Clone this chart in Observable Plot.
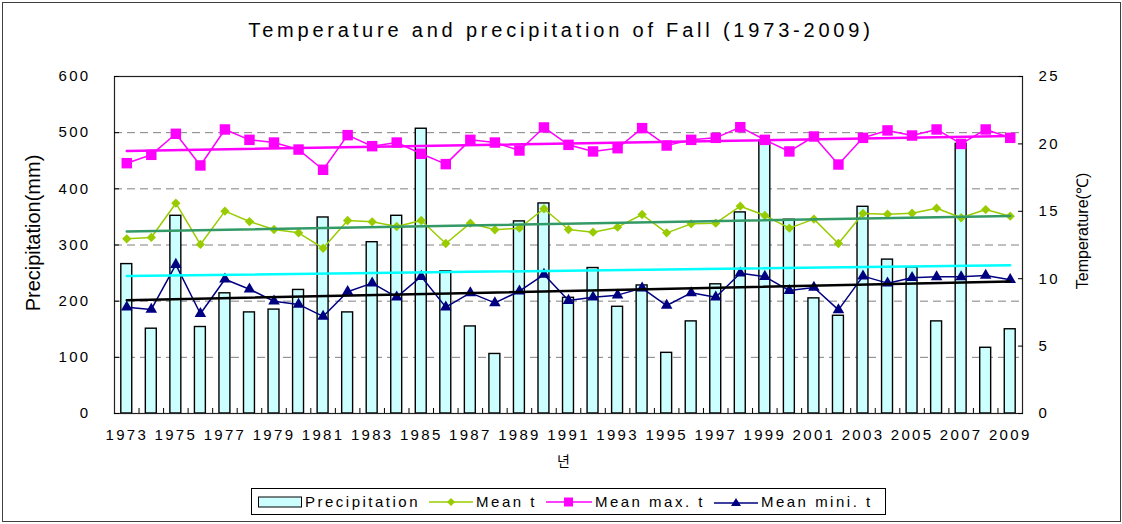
<!DOCTYPE html>
<html>
<head>
<meta charset="utf-8">
<script src="https://cdn.jsdelivr.net/npm/d3@7"></script>
<script src="https://cdn.jsdelivr.net/npm/@observablehq/plot@0.6"></script>
<style>
  body { margin: 0; background: #fff; font-family: "Liberation Sans", Arial, "Noto Sans CJK KR", sans-serif; }
  #wrap { position: relative; width: 1122px; height: 524px; overflow: hidden; background: #fff; }
  #border { position: absolute; left: 2px; top: 2px; width: 1117px; height: 518px; border: 1px solid #404040; }
  #title { position: absolute; left: 0; top: 20px; width: 1122px; text-align: center; font-size: 20px; line-height: 20px; letter-spacing: 3.8px; color: #000; }
  #chart { position: absolute; left: 0; top: 0; }
  #chart g[aria-label$="tick label"] text { letter-spacing: 2.3px; }
  #legend { position: absolute; left: 251px; top: 488px; width: 633px; height: 25px; border: 1px solid #000; display: flex; align-items: center; font-size: 15px; letter-spacing: 2.5px; color: #000; white-space: nowrap; overflow: hidden; }
  #legend .item { display: flex; align-items: center; flex-shrink: 0; margin-left: 6px; margin-right: 3px; }
  #legend .item svg { margin-right: 3px; flex-shrink: 0; }
</style>
</head>
<body>
<div id="wrap">
  <div id="border"></div>
  <div id="title"></div>
  <div id="chart"></div>
  <div id="legend"></div>
</div>
<script>
// ---- data ----
const years = [1973,1974,1975,1976,1977,1978,1979,1980,1981,1982,1983,1984,1985,1986,1987,1988,1989,1990,1991,1992,1993,1994,1995,1996,1997,1998,1999,2000,2001,2002,2003,2004,2005,2006,2007,2008,2009];
const precipitation = [266,151,352,154,214,180,185,220,349,180,305,352,507,253,155,106,342,374,206,259,190,228,108,164,230,358,486,345,205,174,368,274,260,164,480,117,150];
const meanT = [12.96,13.06,15.60,12.54,15.01,14.24,13.65,13.40,12.26,14.32,14.22,13.87,14.32,12.61,14.12,13.63,13.75,15.19,13.65,13.45,13.82,14.76,13.40,14.07,14.12,15.38,14.69,13.75,14.42,12.61,14.84,14.79,14.86,15.23,14.52,15.13,14.64];
const meanMaxT = [18.57,19.19,20.75,18.40,21.07,20.30,20.10,19.58,18.08,20.65,19.83,20.10,19.27,18.50,20.30,20.10,19.51,21.22,19.93,19.44,19.68,21.17,19.88,20.30,20.45,21.24,20.30,19.44,20.55,18.47,20.45,21.00,20.62,21.07,20.00,21.07,20.45];
const meanMinT = [7.89,7.72,11.05,7.40,9.96,9.22,8.33,8.09,7.20,9.03,9.67,8.63,10.16,7.89,8.95,8.21,9.07,10.31,8.38,8.63,8.78,9.30,8.01,8.95,8.63,10.41,10.16,9.12,9.35,7.69,10.19,9.67,10.07,10.14,10.14,10.24,9.92];
const yearLabels = [1973,1975,1977,1979,1981,1983,1985,1987,1989,1991,1993,1995,1997,1999,2001,2003,2005,2007,2009];
const precipTicks = [0,100,200,300,400,500,600];
const gridTicks = [100,200,300,400,500];
const tempTicks = [0,5,10,15,20,25];
const title = "Temperature and precipitation of Fall (1973-2009)";
const seriesNames = ["Precipitation", "Mean t", "Mean max. t", "Mean mini. t"];

// ---- build ----
const K = 600 / 25; // temperature -> precipitation axis
const rows = years.map((year, i) => ({year, precip: precipitation[i], tMean: meanT[i], tMax: meanMaxT[i], tMin: meanMinT[i]}));
const boundaries = years.slice(0, -1).map(y => y + 0.5);

const colors = {precip: "#ccffff", mean: "#99cc00", max: "#ff00ff", min: "#000080",
  trendPrecip: "#00ffff", trendMean: "#339966", trendMax: "#ff00ff", trendMin: "#000000"};

const plot = Plot.plot({
  width: 1122, height: 480,
  marginLeft: 114, marginRight: 100, marginTop: 76, marginBottom: 67,
  style: {fontFamily: "'Liberation Sans', Arial, sans-serif", fontSize: "15px", color: "#000", background: "transparent", overflow: "visible"},
  x: {type: "linear", domain: [1972.5, 2009.5], label: null},
  y: {domain: [0, 600], label: null},
  marks: [
    Plot.ruleY(gridTicks, {stroke: "#808080", strokeDasharray: "8,5", strokeWidth: 1}),
    Plot.rectY(rows, {x1: d => d.year - 0.5, x2: d => d.year + 0.5, y: "precip", fill: colors.precip, stroke: "#000", strokeWidth: 1.4, insetLeft: 6.8, insetRight: 6.8}),
    Plot.line(rows, {x: "year", y: d => d.tMax * K, stroke: colors.max, strokeWidth: 1.5}),
    Plot.dot(rows, {x: "year", y: d => d.tMax * K, symbol: "square", r: 5.9, fill: colors.max}),
    Plot.line(rows, {x: "year", y: d => d.tMean * K, stroke: colors.mean, strokeWidth: 1.5}),
    Plot.dot(rows, {x: "year", y: d => d.tMean * K, symbol: "diamond2", r: 4.2, fill: colors.mean}),
    Plot.line(rows, {x: "year", y: d => d.tMin * K, stroke: colors.min, strokeWidth: 1.5}),
    Plot.dot(rows, {x: "year", y: d => d.tMin * K, symbol: "triangle", r: 4.3, fill: colors.min}),
    Plot.linearRegressionY(rows, {x: "year", y: "precip", stroke: colors.trendPrecip, strokeWidth: 2.5, ci: 0}),
    Plot.linearRegressionY(rows, {x: "year", y: d => d.tMean * K, stroke: colors.trendMean, strokeWidth: 2.5, ci: 0}),
    Plot.linearRegressionY(rows, {x: "year", y: d => d.tMax * K, stroke: colors.trendMax, strokeWidth: 2.5, ci: 0}),
    Plot.linearRegressionY(rows, {x: "year", y: d => d.tMin * K, stroke: colors.trendMin, strokeWidth: 2.5, ci: 0}),
    Plot.frame({stroke: "#222", strokeWidth: 1.2}),
    // axes
    Plot.axisX(yearLabels, {tickSize: 0, tickPadding: 16, tickFormat: d => String(d), fontSize: 15, label: null}),
    Plot.axisX(boundaries, {tickSize: 5, dy: -5, tickFormat: () => "", stroke: "#000", label: null}),
    Plot.axisY(precipTicks, {anchor: "left", tickSize: 0, tickPadding: 24, fontSize: 15, label: null}),
    Plot.axisY(precipTicks, {anchor: "left", tickSize: 5, dx: 5, tickFormat: () => "", stroke: "#000", label: null}),
    Plot.axisY(tempTicks.map(t => t * K), {anchor: "right", tickSize: 0, tickPadding: 16, tickFormat: d => String(d / K), fontSize: 15, label: null}),
    Plot.axisY(tempTicks.map(t => t * K), {anchor: "right", tickSize: 5, dx: -5, tickFormat: () => "", stroke: "#000", label: null}),
    // axis titles
    Plot.text(["Precipitation(mm)"], {frameAnchor: "left", textAnchor: "middle", dx: -81, dy: -12, rotate: -90, fontSize: 20, fill: "#000"}),
    Plot.text(["Temperature(℃)"], {frameAnchor: "right", textAnchor: "middle", dx: 60, dy: -14, rotate: -90, fontSize: 16, fill: "#000"}),
    Plot.text(["년"], {frameAnchor: "bottom", dx: -5, dy: 52, fontSize: 14, fill: "#000", fontFamily: "'Noto Sans CJK KR', sans-serif"})
  ]
});
document.getElementById("chart").appendChild(plot);
document.getElementById("title").textContent = title;

// ---- legend ----
const swatches = [
  `<svg width="44" height="12"><rect x="0.5" y="1" width="43" height="10" fill="${colors.precip}" stroke="#000"/></svg>`,
  `<svg width="44" height="12"><line x1="0" x2="44" y1="6" y2="6" stroke="${colors.mean}" stroke-width="1.5"/><polygon points="22,2 26,6 22,10 18,6" fill="${colors.mean}"/></svg>`,
  `<svg width="46" height="12"><line x1="0" x2="46" y1="6" y2="6" stroke="${colors.max}" stroke-width="1.5"/><rect x="18" y="1.5" width="9" height="9" fill="${colors.max}"/></svg>`,
  `<svg width="44" height="12"><line x1="0" x2="44" y1="7" y2="7" stroke="${colors.min}" stroke-width="1.5"/><polygon points="22,2 27,10 17,10" fill="${colors.min}"/></svg>`
];
document.getElementById("legend").innerHTML = seriesNames.map((n, i) =>
  `<span class="item">${swatches[i]}<span>${n}</span></span>`).join("");
</script>
</body>
</html>
